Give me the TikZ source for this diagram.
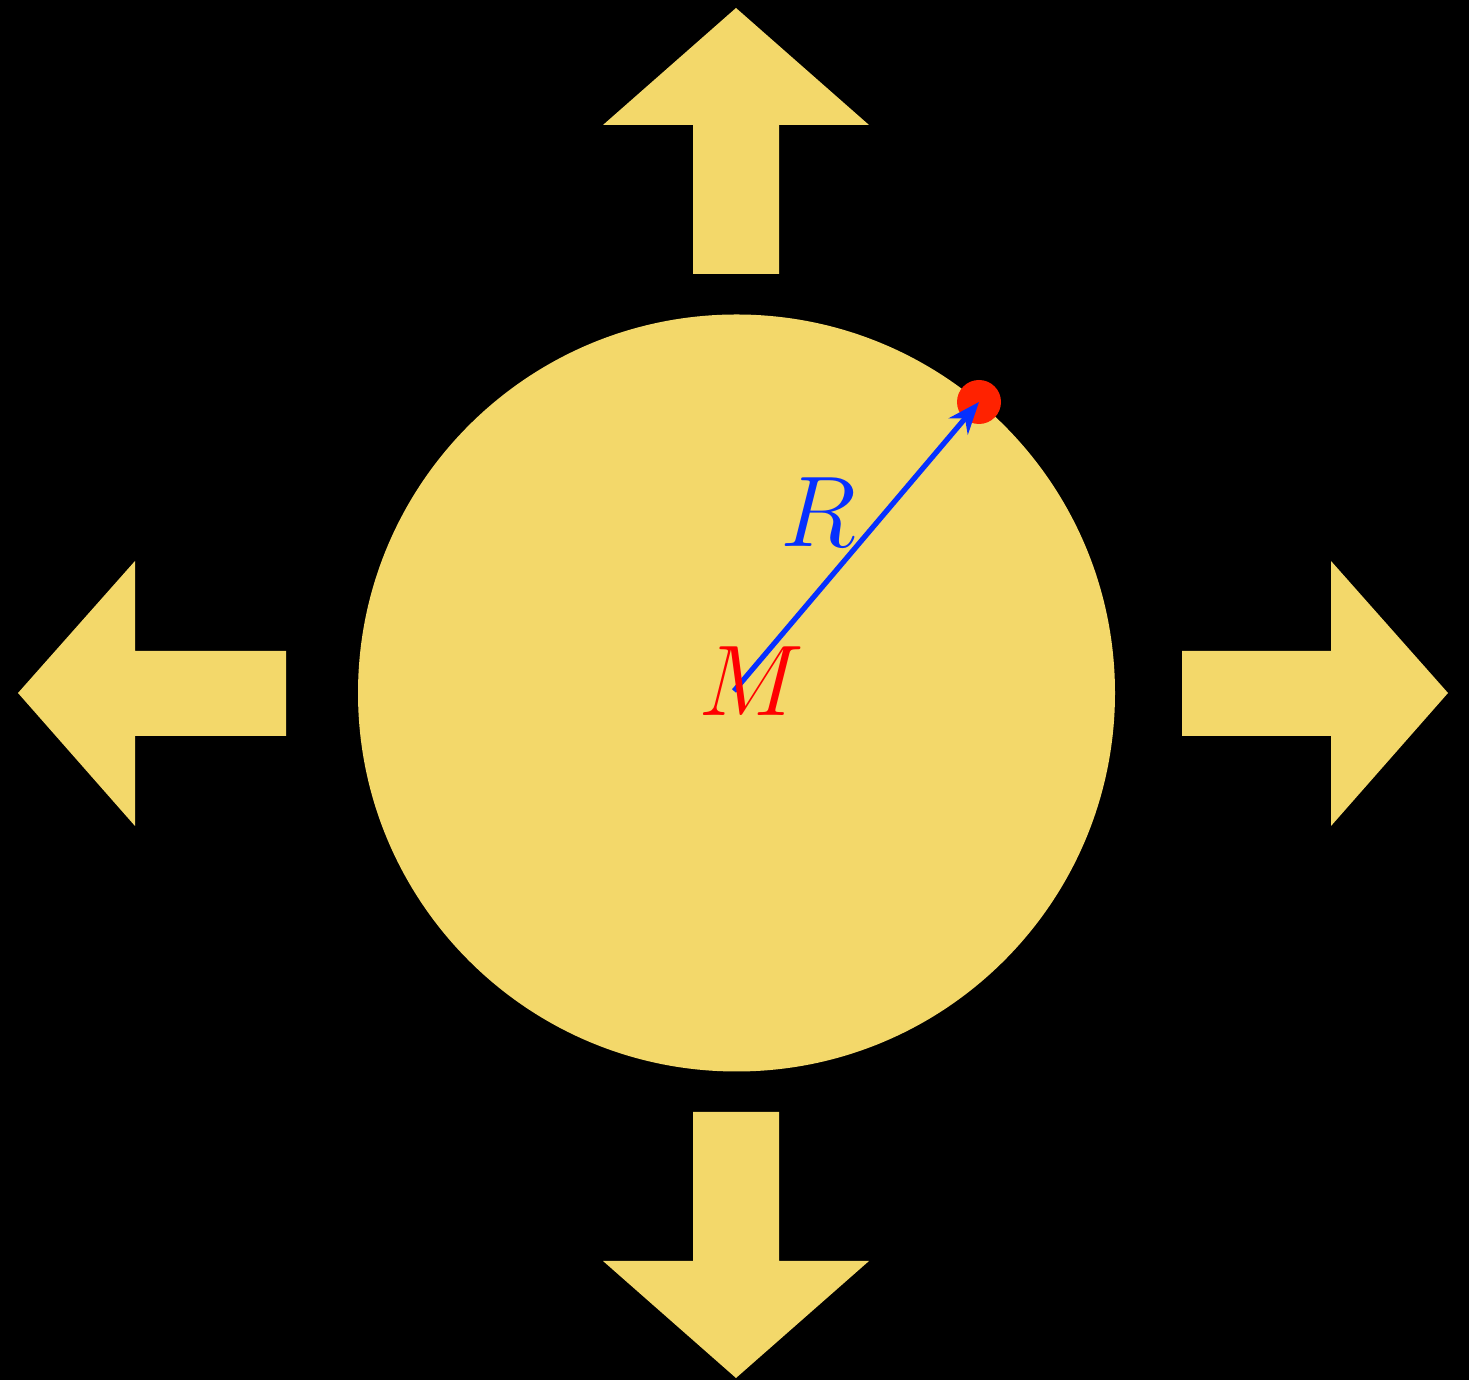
\documentclass[tikz,border=0pt]{standalone}
\usetikzlibrary{arrows.meta}
\definecolor{sunyellow}{HTML}{F3D86A}
\definecolor{dotred}{HTML}{FF2200}
\definecolor{radblue}{HTML}{0630FF}
\tikzset{
  bigarrow/.style={fill=sunyellow, draw=none},
  biglabel/.style={font=\Huge, scale=1.15, inner sep=0pt}
}
\begin{document}
\begin{tikzpicture}
\fill[black] (0,0) rectangle (14.69,13.80);
\useasboundingbox (0,0) rectangle (14.69,13.80);
% sphere
\fill[sunyellow] (7.365,6.87) circle (3.785);
% arrows
\fill[bigarrow] (7.36,13.72) -- (8.69,12.55) -- (7.79,12.55) -- (7.79,11.06) -- (6.93,11.06) -- (6.93,12.55) -- (6.03,12.55) -- cycle;
\fill[bigarrow] (7.36,0.02) -- (8.69,1.19) -- (7.79,1.19) -- (7.79,2.68) -- (6.93,2.68) -- (6.93,1.19) -- (6.03,1.19) -- cycle;
\fill[bigarrow] (0.18,6.87) -- (1.35,8.19) -- (1.35,7.29) -- (2.86,7.29) -- (2.86,6.44) -- (1.35,6.44) -- (1.35,5.54) -- cycle;
\fill[bigarrow] (14.48,6.87) -- (13.31,8.19) -- (13.31,7.29) -- (11.82,7.29) -- (11.82,6.44) -- (13.31,6.44) -- (13.31,5.54) -- cycle;
% center and surface point
\coordinate (M) at (7.34,6.89);
\node[circle, fill=dotred, minimum size=0.44cm, inner sep=0pt] (P) at (9.79,9.78) {};
\draw[radblue, line width=1.5pt, -{Stealth[length=0.32cm,width=0.25cm]}] (M) -- (P.center);
\node[biglabel, text=red] (Mlabel) at (7.51,6.99) {$M$};
\node[biglabel, text=radblue] (Rlabel) at (8.18,8.68) {$R$};
\end{tikzpicture}
\end{document}
